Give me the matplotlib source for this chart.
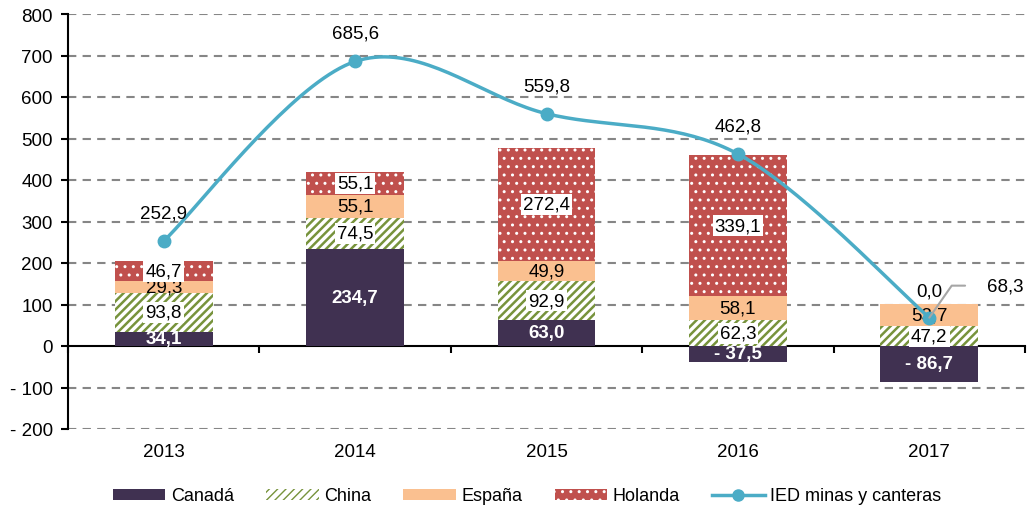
import matplotlib
matplotlib.use("Agg")
import matplotlib.pyplot as plt
import numpy as np

plt.rcParams['font.family'] = ['Liberation Sans', 'DejaVu Sans']

# datos
years = ['2013', '2014', '2015', '2016', '2017']
canada = [34.1, 234.7, 63.0, -37.5, -86.7]
china = [93.8, 74.5, 92.9, 62.3, 47.2]
espana = [29.3, 55.1, 49.9, 58.1, 53.7]
holanda = [46.7, 55.1, 272.4, 339.1, 0.0]
ied = [252.9, 685.6, 559.8, 462.8, 68.3]

series = [
    ('Canadá', canada, dict(facecolor='#403151', edgecolor='#403151', hatch=None)),
    ('China', china, dict(facecolor='white', edgecolor='#77933C', hatch='////')),
    ('España', espana, dict(facecolor='#FAC090', edgecolor='#FAC090', hatch=None)),
    ('Holanda', holanda, dict(facecolor='#C0504D', edgecolor='white', hatch='..')),
]


def fmt(v):
    s = f"{abs(v):.1f}".replace('.', ',')
    return ('- ' + s) if v < 0 else s


def smooth(xs, ys, n=40):
    # curva suavizada tipo Excel (Bezier / Catmull-Rom)
    pts = np.column_stack([xs, ys]).astype(float)
    p = np.vstack([pts[0], pts, pts[-1]])
    out = []
    t = np.linspace(0, 1, n)[:, None]
    for i in range(1, len(p) - 2):
        p0, p1, p2, p3 = p[i - 1], p[i], p[i + 1], p[i + 2]
        c1 = p1 + (p2 - p0) / 6
        c2 = p2 - (p3 - p1) / 6
        seg = ((1 - t) ** 3) * p1 + 3 * ((1 - t) ** 2) * t * c1 + 3 * (1 - t) * t ** 2 * c2 + t ** 3 * p2
        out.append(seg)
    out = np.vstack(out)
    return out[:, 0], out[:, 1]


fig = plt.figure(figsize=(10.27, 5.10), dpi=100)
ax = fig.add_axes([68 / 1027, 1 - 430 / 510, (1025 - 68) / 1027, 415 / 510])

x = np.arange(len(years))
width = 0.51
pos_base = np.zeros(len(years))
neg_base = np.zeros(len(years))
handles = []
for name, vals, st in series:
    vals = np.array(vals)
    bottoms = np.where(vals >= 0, pos_base, neg_base)
    lw_hatch = 1.8 if name == 'China' else 1.0
    with plt.rc_context({'hatch.linewidth': lw_hatch}):
        b = ax.bar(x, vals, width, bottom=bottoms, facecolor=st['facecolor'],
                   edgecolor=st['edgecolor'], hatch=st['hatch'], linewidth=0,
                   zorder=3, label=name)
    handles.append(b)
    for i, v in enumerate(vals):
        yc = bottoms[i] + v / 2
        if name == 'Canadá':
            ax.text(x[i], yc, fmt(v), ha='center', va='center', color='white',
                    fontsize=13.5, fontweight='bold', zorder=5)
        elif name == 'España':
            ax.text(x[i], yc, fmt(v), ha='center', va='center', color='black',
                    fontsize=13.5, zorder=5)
        elif name == 'Holanda' and v == 0:
            ax.text(x[i], bottoms[i] + 32, fmt(v), ha='center', va='center',
                    color='black', fontsize=13.5, zorder=5)
        else:
            ax.text(x[i], yc, fmt(v), ha='center', va='center', color='black',
                    fontsize=13.5, zorder=5,
                    bbox=dict(facecolor='white', edgecolor='none', pad=1.5))
    pos_base = pos_base + np.where(vals >= 0, vals, 0)
    neg_base = neg_base + np.where(vals < 0, vals, 0)

# linea IED
sx, sy = smooth(x, ied)
ax.plot(sx, sy, color='#4BACC6', linewidth=2.5, zorder=6)
ax.plot(x, ied, 'o', color='#4BACC6', markersize=9, zorder=7)
line_handle, = ax.plot([], [], color='#4BACC6', linewidth=2.5, marker='o',
                       markersize=8, label='IED minas y canteras')
for i, v in enumerate(ied[:-1]):
    ax.annotate(fmt(v), (x[i], v), xytext=(0, 28), textcoords='offset pixels',
                ha='center', va='center', fontsize=13.5, zorder=8)
ax.annotate(fmt(ied[-1]), (x[-1], ied[-1]), xytext=(58, 32), textcoords='offset pixels',
            ha='left', va='center', fontsize=13.5, zorder=8,
            arrowprops=dict(arrowstyle='-', color='#A6A6A6', lw=1.5,
                            connectionstyle='angle,angleA=0,angleB=55',
                            shrinkA=14, shrinkB=0, relpos=(0, 0.5)))

# ejes
ax.set_xlim(-0.5, len(years) - 0.5)
ax.set_ylim(-200, 800)
yt = np.arange(-200, 801, 100)
ax.set_yticks(yt)
ax.set_yticklabels([('- ' + str(abs(v))) if v < 0 else str(v) for v in yt], fontsize=13.5)
ax.set_xticks(x)
ax.set_xticklabels(years, fontsize=13.5)
ax.tick_params(axis='x', length=0, pad=10)
ax.tick_params(axis='y', length=5, width=1.5, direction='out', pad=6)
for yv in yt:
    if yv != 0:
        ax.axhline(yv, color='#868686', linewidth=1.5, linestyle=(0, (4, 3)), zorder=1)
for s in ['top', 'right', 'bottom']:
    ax.spines[s].set_visible(False)
ax.spines['left'].set_linewidth(1.5)

sec = ax.secondary_xaxis(0.2)
sec.set_xticks(np.arange(-0.5, len(years), 1.0))
sec.set_xticklabels([])
sec.tick_params(length=5, width=1.5, direction='out')
sec.spines['bottom'].set_linewidth(1.5)

fig.legend(handles=handles + [line_handle], loc='center', ncol=5,
           bbox_to_anchor=(527 / 1027, 1 - 497 / 510), frameon=False,
           fontsize=13, handlelength=2.9, handleheight=0.55, columnspacing=1.8,
           handletextpad=0.3)

fig.savefig('out.png', dpi=100)
